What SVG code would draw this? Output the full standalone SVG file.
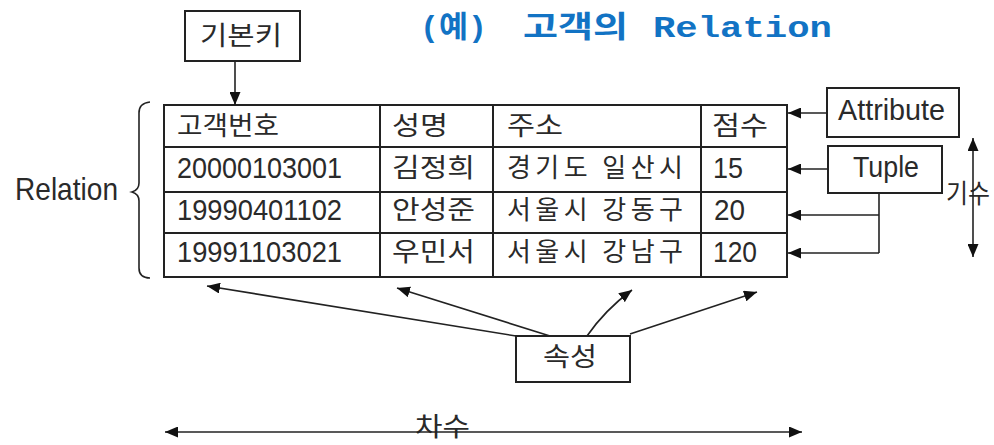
<svg xmlns="http://www.w3.org/2000/svg" width="994" height="445" viewBox="0 0 994 445">
<style>
  .t { font-family: "Liberation Sans", "Noto Sans CJK KR", sans-serif; fill: #2a2a2a; }
  .k { font-family: "Noto Sans CJK KR", "Liberation Sans", sans-serif; fill: #2a2a2a; font-size: 26px; }
  .box { fill: #fff; stroke: #222; stroke-width: 2; }
  .grid { stroke: #222; stroke-width: 2; fill: none; }
  .ln { stroke: #222; stroke-width: 1.6; fill: none; }
  .title { font-family: "Liberation Mono", "Noto Sans CJK KR", monospace; font-weight: bold; fill: #1273C4; font-size: 30px; }
</style>
<defs>
  <marker id="ah" viewBox="0 0 13 11" refX="13" refY="5.5" markerWidth="13" markerHeight="11" markerUnits="userSpaceOnUse" orient="auto-start-reverse">
    <path d="M0,0 L13,5.5 L0,11 z" fill="#111"/>
  </marker>
</defs>

<g id="title">
  <text class="title" y="37"><tspan x="420" textLength="67" lengthAdjust="spacingAndGlyphs">(예)</tspan><tspan x="523" textLength="105" lengthAdjust="spacingAndGlyphs">고객의</tspan><tspan x="653" textLength="179" lengthAdjust="spacingAndGlyphs">Relation</tspan></text>
</g>

<g id="primary-key">
  <rect class="box" x="185" y="11" width="115" height="50"/>
  <text class="k" x="200" y="45" textLength="82" lengthAdjust="spacingAndGlyphs">기본키</text>
</g>

<g id="relation-table">
  <rect class="grid" x="164" y="105" width="623" height="172"/>
  <path class="grid" d="M164,147 H787 M164,192 H787 M164,233 H787 M380,105 V277 M493,105 V277 M701,105 V277"/>
  <text class="k" x="177" y="135" textLength="102" lengthAdjust="spacingAndGlyphs">고객번호</text>
  <text class="k" x="392" y="135" textLength="56" lengthAdjust="spacingAndGlyphs">성명</text>
  <text class="k" x="507" y="135" textLength="56" lengthAdjust="spacingAndGlyphs">주소</text>
  <text class="k" x="712" y="135" textLength="56" lengthAdjust="spacingAndGlyphs">점수</text>

  <text class="t" x="177" y="178" font-size="30" textLength="165" lengthAdjust="spacingAndGlyphs">20000103001</text>
  <text class="t" x="177" y="220" font-size="30" textLength="165" lengthAdjust="spacingAndGlyphs">19990401102</text>
  <text class="t" x="177" y="262" font-size="30" textLength="165" lengthAdjust="spacingAndGlyphs">19991103021</text>

  <text class="k" x="392" y="177" textLength="83" lengthAdjust="spacingAndGlyphs">김정희</text>
  <text class="k" x="392" y="219" textLength="83" lengthAdjust="spacingAndGlyphs">안성준</text>
  <text class="k" x="392" y="261" textLength="83" lengthAdjust="spacingAndGlyphs">우민서</text>

  <text class="k" x="507" y="177" textLength="176" lengthAdjust="spacing">경기도 일산시</text>
  <text class="k" x="507" y="219" textLength="176" lengthAdjust="spacing">서울시 강동구</text>
  <text class="k" x="507" y="261" textLength="176" lengthAdjust="spacing">서울시 강남구</text>

  <text class="t" x="713" y="178" font-size="30" textLength="30" lengthAdjust="spacingAndGlyphs">15</text>
  <text class="t" x="714" y="220" font-size="30" textLength="31" lengthAdjust="spacingAndGlyphs">20</text>
  <text class="t" x="713" y="262" font-size="30" textLength="44" lengthAdjust="spacingAndGlyphs">120</text>
</g>

<g id="relation-label">
  <path class="ln" d="M150,102 Q139,103 139,113 L139,183 Q139,190 132,192 Q139,194 139,201 L139,268 Q139,278 150,278"/>
  <text class="t" x="15" y="200" font-size="32" textLength="103" lengthAdjust="spacingAndGlyphs">Relation</text>
</g>

<g id="attribute">
  <rect class="box" x="827" y="88" width="132" height="49"/>
  <text class="t" x="838" y="120" font-size="29" textLength="107" lengthAdjust="spacingAndGlyphs">Attribute</text>
</g>

<g id="tuple">
  <rect class="box" x="828" y="146" width="114" height="47"/>
  <text class="t" x="853" y="177" font-size="29" textLength="66" lengthAdjust="spacingAndGlyphs">Tuple</text>
</g>

<g id="cardinality">
  <text class="k" x="946" y="203" textLength="44" lengthAdjust="spacingAndGlyphs">기수</text>
</g>

<g id="attribute-box">
  <rect class="box" x="516" y="336" width="114" height="46"/>
  <text class="k" x="543" y="366" textLength="54" lengthAdjust="spacingAndGlyphs">속성</text>
</g>

<g id="degree">
  <text class="k" x="415" y="436" font-size="25" textLength="55" lengthAdjust="spacingAndGlyphs">차수</text>
</g>

<g id="connectors">
  <line class="ln" x1="235" y1="61" x2="235" y2="105" marker-end="url(#ah)"/>
  <line class="ln" x1="827" y1="113" x2="788" y2="113" marker-end="url(#ah)"/>
  <line class="ln" x1="828" y1="169" x2="788" y2="169" marker-end="url(#ah)"/>
  <path class="ln" d="M879,193 V253"/>
  <line class="ln" x1="879" y1="215" x2="788" y2="215" marker-end="url(#ah)"/>
  <line class="ln" x1="879" y1="253" x2="788" y2="253" marker-end="url(#ah)"/>
  <line class="ln" x1="973" y1="257" x2="973" y2="138" marker-start="url(#ah)" marker-end="url(#ah)"/>
  <line class="ln" x1="516" y1="336" x2="207" y2="286" marker-end="url(#ah)"/>
  <line class="ln" x1="550" y1="336" x2="397" y2="288" marker-end="url(#ah)"/>
  <path class="ln" d="M587,336 Q605,310 632,290" marker-end="url(#ah)"/>
  <line class="ln" x1="630" y1="334" x2="757" y2="292" marker-end="url(#ah)"/>
  <line class="ln" x1="165" y1="432" x2="802" y2="432" stroke-width="2" marker-start="url(#ah)" marker-end="url(#ah)"/>
</g>
</svg>
